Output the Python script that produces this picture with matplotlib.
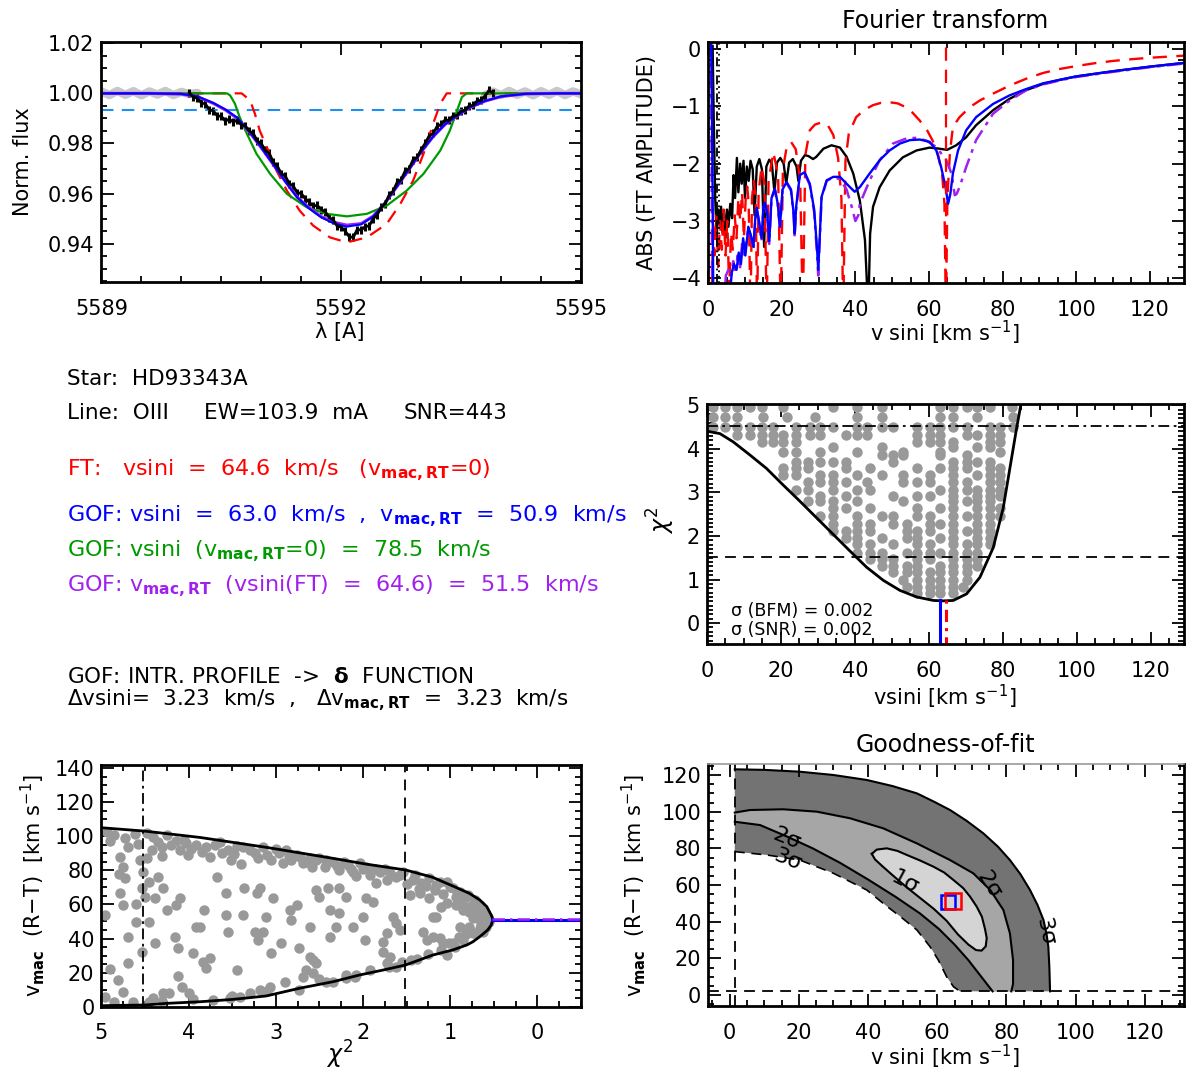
import matplotlib
matplotlib.use('Agg')
import matplotlib.pyplot as plt
import numpy as np
from matplotlib.ticker import MultipleLocator, FormatStrFormatter, FuncFormatter

plt.rcParams['font.family'] = ['DejaVu Sans']
plt.rcParams['mathtext.fontset'] = 'dejavusans'

# ------------------------------------------------------------------ data
# top-left: line profile
cont_left = [(5589.0, 1.0008), (5589.1, 0.9993), (5589.2, 1.0010), (5589.3, 0.9994), (5589.4, 1.0009),
             (5589.5, 0.9992), (5589.6, 1.0008), (5589.7, 0.9995), (5589.8, 1.0010), (5589.9, 0.9993),
             (5590.0, 1.0006), (5590.1, 0.9997), (5590.2, 1.0002)]
cont_right = [(5593.8, 0.9993), (5593.9, 1.0007), (5594.0, 0.9993), (5594.1, 1.0010), (5594.2, 0.9994),
              (5594.3, 1.0008), (5594.4, 0.9992), (5594.5, 1.0009), (5594.6, 0.9994), (5594.7, 1.0010),
              (5594.8, 0.9993), (5594.9, 1.0008), (5595.0, 0.9996)]
obs_wave = [5590.10, 5590.15, 5590.20, 5590.25, 5590.30, 5590.35, 5590.40, 5590.45, 5590.50, 5590.55,
            5590.60, 5590.65, 5590.70, 5590.75, 5590.80, 5590.85, 5590.90, 5590.95, 5591.00, 5591.05,
            5591.10, 5591.15, 5591.20, 5591.25, 5591.30, 5591.35, 5591.40, 5591.45, 5591.50, 5591.55,
            5591.60, 5591.65, 5591.70, 5591.75, 5591.80, 5591.85, 5591.90, 5591.95, 5592.00, 5592.05,
            5592.10, 5592.15, 5592.20, 5592.25, 5592.30, 5592.35, 5592.40, 5592.45, 5592.50, 5592.55,
            5592.60, 5592.65, 5592.70, 5592.75, 5592.80, 5592.85, 5592.90, 5592.95, 5593.00, 5593.05,
            5593.10, 5593.15, 5593.20, 5593.25, 5593.30, 5593.35, 5593.40, 5593.45, 5593.50, 5593.55,
            5593.60, 5593.65, 5593.70, 5593.75, 5593.80, 5593.85, 5593.90]
obs_flux = [1.0002, 0.9985, 0.9981, 0.9962, 0.9958, 0.9935, 0.9930, 0.9910, 0.9908, 0.9890,
            0.9897, 0.9886, 0.9893, 0.9874, 0.9870, 0.9850, 0.9840, 0.9810, 0.9800, 0.9772,
            0.9760, 0.9725, 0.9710, 0.9680, 0.9670, 0.9640, 0.9630, 0.9604, 0.9600, 0.9580,
            0.9566, 0.9550, 0.9553, 0.9536, 0.9528, 0.9504, 0.9495, 0.9470, 0.9466, 0.9450,
            0.9428, 0.9425, 0.9456, 0.9455, 0.9468, 0.9471, 0.9500, 0.9515, 0.9545, 0.9560,
            0.9594, 0.9610, 0.9645, 0.9655, 0.9690, 0.9700, 0.9735, 0.9745, 0.9775, 0.9800,
            0.9830, 0.9840, 0.9868, 0.9876, 0.9894, 0.9892, 0.9910, 0.9912, 0.9930, 0.9932,
            0.9950, 0.9952, 0.9970, 0.9972, 0.9990, 1.0012, 1.0000]
obs_err = 0.0016
fit_blue = [(5589.0, 1.0), (5589.6, 1.0), (5590.0, 0.9998), (5590.2, 0.9988), (5590.4, 0.9962),
            (5590.55, 0.9936), (5590.7, 0.9903), (5590.85, 0.9848), (5591.0, 0.9784), (5591.15, 0.9717),
            (5591.3, 0.9648), (5591.45, 0.9584), (5591.6, 0.9540), (5591.75, 0.9505), (5591.9, 0.9482),
            (5592.07, 0.9468), (5592.25, 0.9477), (5592.4, 0.9508), (5592.55, 0.9563), (5592.7, 0.9630),
            (5592.85, 0.9698), (5593.0, 0.9767), (5593.15, 0.9828), (5593.3, 0.9877), (5593.45, 0.9911),
            (5593.6, 0.9943), (5593.8, 0.9970), (5594.0, 0.9988), (5594.3, 0.9998), (5594.7, 1.0), (5595.0, 1.0)]
fit_purple = [(5589.0, 1.0), (5589.6, 1.0), (5590.0, 0.9997), (5590.2, 0.9987), (5590.4, 0.9960),
              (5590.55, 0.9934), (5590.7, 0.9900), (5590.85, 0.9846), (5591.0, 0.9783), (5591.15, 0.9716),
              (5591.3, 0.9649), (5591.45, 0.9586), (5591.6, 0.9543), (5591.75, 0.9508), (5591.9, 0.9486),
              (5592.07, 0.9474), (5592.25, 0.9480), (5592.4, 0.9510), (5592.55, 0.9563), (5592.7, 0.9629),
              (5592.85, 0.9697), (5593.0, 0.9766), (5593.15, 0.9827), (5593.3, 0.9876), (5593.45, 0.9910),
              (5593.6, 0.9942), (5593.8, 0.9969), (5594.0, 0.9987), (5594.3, 0.9998), (5594.7, 1.0), (5595.0, 1.0)]
fit_red = [(5589.0, 1.0), (5590.755, 1.0), (5590.86, 0.9972), (5590.92, 0.9919), (5590.98, 0.9852),
           (5591.07, 0.9785), (5591.19, 0.9692), (5591.32, 0.9612), (5591.48, 0.9532), (5591.65, 0.9472),
           (5591.86, 0.9425), (5592.07, 0.9405), (5592.32, 0.9425), (5592.57, 0.9479), (5592.74, 0.9559),
           (5592.90, 0.9652), (5593.03, 0.9759), (5593.15, 0.9879), (5593.24, 0.9959), (5593.32, 1.0),
           (5595.0, 1.0)]
fit_green = [(5589.0, 1.0), (5590.57, 1.0), (5590.61, 0.9992), (5590.67, 0.9959), (5590.73, 0.9905),
             (5590.82, 0.9839), (5590.94, 0.9759), (5591.11, 0.9679), (5591.32, 0.9599), (5591.57, 0.9545),
             (5591.82, 0.9519), (5592.07, 0.9509), (5592.32, 0.9519), (5592.57, 0.9552), (5592.82, 0.9612),
             (5593.03, 0.9679), (5593.24, 0.9772), (5593.36, 0.9852), (5593.45, 0.9932), (5593.51, 0.9985),
             (5593.57, 1.0), (5595.0, 1.0)]
noise_level = 0.9932

# top-right: Fourier transform (log10 |FT|)
ft_black = [(1.2, 0.05), (1.5, -1.2), (1.9, -2.6), (2.3, -3.3), (2.7, -2.8), (3.1, -3.05), (3.5, -2.75),
            (3.9, -3.2), (4.3, -2.85), (4.7, -3.3), (5.1, -2.8), (5.5, -3.1), (6.0, -2.7), (6.5, -2.95),
            (6.9, -2.2), (7.3, -2.6), (7.8, -1.9), (8.2, -2.5), (8.7, -2.0), (9.1, -2.35), (9.6, -1.95),
            (10.0, -2.6), (10.5, -2.05), (11.0, -2.3), (11.5, -1.95), (12.1, -2.1), (12.6, -2.9), (13.2, -2.05),
            (13.9, -1.92), (14.6, -2.1), (15.2, -3.45), (15.8, -2.05), (16.6, -1.93), (17.3, -2.0), (18.0, -2.5),
            (18.7, -1.98), (19.6, -1.9), (20.5, -2.0), (21.2, -2.35), (22.0, -1.98), (23.0, -1.92), (24.0, -2.05),
            (24.5, -2.3), (25.2, -1.95), (26.3, -1.85), (27.3, -1.87), (28.5, -1.92), (29.4, -1.88), (31.3, -1.74),
            (33.5, -1.68), (35.8, -1.72), (37.6, -1.88), (39.4, -2.17), (41.2, -2.64), (42.6, -3.33), (43.5, -4.6),
            (44.0, -3.22), (44.8, -2.75), (46.6, -2.41), (49.3, -2.12), (52.9, -1.89), (56.6, -1.77), (60.2, -1.72),
            (62.9, -1.74), (64.9, -1.76), (67.4, -1.68), (70.1, -1.54), (72.8, -1.33), (77.4, -1.07), (81.9, -0.87),
            (86.4, -0.72), (91.0, -0.61), (95.5, -0.54), (100, -0.48), (110, -0.39), (120, -0.31), (130, -0.24)]
ft_red = [(1.0, -4.6), (1.3, -3.0), (1.7, -3.6), (2.2, -2.9), (2.7, -3.8), (3.2, -3.0), (3.7, -3.5), (4.2, -2.8),
          (4.7, -3.6), (5.2, -3.0), (5.7, -4.2), (6.2, -3.2), (6.7, -3.5), (7.2, -2.9), (7.7, -3.3), (8.2, -2.6),
          (8.7, -3.0), (9.2, -2.5), (9.7, -3.3), (10.2, -2.6), (10.6, -2.4), (11.0, -2.7), (11.5, -4.6),
          (11.9, -2.6), (12.4, -2.3), (12.9, -2.6), (13.3, -4.6), (13.7, -2.5), (14.5, -2.05), (15.3, -2.35),
          (15.9, -4.6), (16.4, -2.3), (17.7, -1.8), (19.0, -2.2), (19.7, -4.6), (20.3, -2.1), (21.3, -1.72),
          (22.5, -1.62), (23.8, -1.75), (25.0, -2.3), (25.7, -4.6), (26.4, -1.85), (27.6, -1.42), (29.0, -1.32),
          (30.8, -1.28), (32.5, -1.33), (34.0, -1.50), (35.3, -1.9), (36.2, -2.6), (36.7, -4.6), (37.3, -1.95),
          (38.2, -1.48), (40.2, -1.19), (42.5, -1.06), (44.8, -0.98), (47.0, -0.94), (49.3, -0.93), (51.5, -0.95),
          (53.5, -1.01), (55.5, -1.11), (57.5, -1.25), (59.5, -1.42), (61.0, -1.60), (62.5, -1.85), (63.6, -2.2),
          (64.2, -2.7), (64.6, -4.6), (65.0, -2.6), (65.7, -1.8), (66.5, -1.36), (68.3, -1.19), (71.1, -1.015),
          (73.8, -0.90), (77.4, -0.78), (81.9, -0.64), (86.4, -0.52), (91.0, -0.42), (95.5, -0.35), (100, -0.30),
          (105, -0.25), (110, -0.21), (115, -0.18), (120, -0.155), (125, -0.135), (130, -0.115)]
ft_blue = [(0.8, 0.12), (1.0, -1.0), (1.2, -2.5), (1.4, -4.6), (5.5, -4.6), (6.4, -3.9), (7.0, -3.75),
           (7.7, -3.85), (8.3, -3.55), (8.9, -3.75), (9.5, -3.3), (10.1, -3.6), (10.9, -3.1), (11.6, -3.25),
           (12.3, -3.45), (12.8, -2.95), (13.2, -2.77), (13.8, -3.0), (14.5, -3.3), (15.0, -2.75), (15.4, -2.68),
           (16.0, -2.85), (16.6, -3.35), (17.2, -2.6), (18.1, -2.43), (18.9, -2.7), (19.5, -3.1), (20.2, -2.45),
           (21.3, -2.32), (22.5, -2.45), (23.2, -2.85), (23.5, -3.22), (23.9, -2.75), (24.9, -2.2), (26.2, -2.15),
           (27.6, -2.35), (28.8, -2.8), (29.6, -3.5), (29.9, -3.85), (30.3, -3.3), (30.8, -2.58), (32.2, -2.29),
           (34.0, -2.23), (35.8, -2.23), (37.6, -2.35), (39.8, -2.49), (41.2, -2.41), (43.9, -2.17), (46.6, -1.94),
           (49.3, -1.77), (52.1, -1.65), (54.8, -1.59), (57.5, -1.58), (60.2, -1.62), (62.0, -1.77), (63.3, -2.06),
           (64.5, -2.41), (65.2, -2.70), (65.8, -2.53), (66.5, -2.17), (67.9, -1.77), (70.1, -1.42), (72.8, -1.19),
           (77.4, -0.96), (81.9, -0.81), (86.4, -0.70), (91.0, -0.60), (95.5, -0.54), (100, -0.48), (110, -0.39),
           (120, -0.31), (130, -0.24)]
ft_purple = [(0.7, 0.12), (0.9, -1.5), (1.1, -4.6), (4.2, -4.6), (4.8, -3.95), (5.5, -3.85), (6.2, -3.97),
             (6.8, -3.7), (7.4, -3.92), (8.0, -3.6), (8.6, -3.85), (9.2, -3.4), (9.8, -3.65), (10.9, -3.12),
             (11.6, -3.27), (12.3, -3.5), (12.8, -2.97), (13.2, -2.79), (13.8, -3.02), (14.5, -3.35), (15.0, -2.77),
             (15.4, -2.70), (16.0, -2.88), (16.6, -3.4), (17.2, -2.62), (18.1, -2.45), (18.9, -2.72), (19.5, -3.15),
             (20.2, -2.47), (21.3, -2.34), (22.5, -2.47), (23.2, -2.9), (23.5, -3.28), (23.9, -2.8), (24.9, -2.22),
             (26.2, -2.17), (27.6, -2.37), (28.8, -2.85), (29.6, -3.6), (29.9, -3.95), (30.3, -3.35), (30.8, -2.6),
             (32.2, -2.3), (34.0, -2.24), (35.8, -2.27), (37.6, -2.45), (39.0, -2.75), (40.0, -3.0), (40.8, -2.9),
             (41.2, -2.70), (43.9, -2.29), (46.6, -1.94), (50.2, -1.65), (53.9, -1.56), (56.6, -1.55), (59.3, -1.60),
             (62.0, -1.71), (64.7, -1.94), (66.1, -2.17), (67.0, -2.55), (67.5, -2.53), (68.3, -2.41), (70.1, -2.06),
             (72.8, -1.59), (77.4, -1.13), (81.9, -0.90), (86.4, -0.72), (91.0, -0.62), (95.5, -0.55), (100, -0.49),
             (110, -0.40), (120, -0.32), (130, -0.25)]
ft_vsini = 64.6
ft_marks = [2.3, 3.0]

# middle-right: chi2 vs vsini
chi2_curve = [(0.35, 4.40), (3.5, 4.35), (7.1, 4.16), (11.6, 3.86), (16.1, 3.55), (20.6, 3.17), (25.1, 2.80),
              (29.6, 2.42), (34.1, 2.04), (38.6, 1.66), (43.2, 1.28), (47.7, 0.98), (52.2, 0.75), (56.7, 0.60),
              (61.2, 0.52), (63.9, 0.51), (66.6, 0.52), (70.2, 0.67), (73.8, 1.05), (77.4, 1.73), (80.1, 2.64),
              (81.9, 3.55), (83.7, 4.46), (85.0, 5.07)]
chi2_rows = [
    (4.95, [1.7, 4.9, 8.0, 11.6, 14.8, 20.6, 34.1, 40.5, 47.2, 63.0, 66.6, 70.2, 72.9, 76.5, 82.6]),
    (4.73, [1.7, 4.9, 8.0, 15.2, 21.5, 29.2, 40.5, 47.2, 63.0, 66.6, 72.9, 82.8]),
    (4.50, [1.7, 4.9, 8.0, 11.6, 14.8, 17.9, 24.2, 27.8, 30.5, 34.1, 40.5, 43.2, 47.2, 50.4, 56.7, 60.3, 63.0,
            66.6, 70.2, 76.5, 79.2, 82.8]),
    (4.31, [8.0, 11.6, 14.8, 17.9, 20.6, 24.2, 27.8, 30.5, 37.7, 40.5, 43.2, 56.7, 60.3, 63.0, 70.2, 72.9, 76.5, 79.2]),
    (4.16, [14.8, 17.9, 20.6, 24.2, 56.7, 60.3, 63.0, 66.6, 76.5, 79.2]),
    (4.05, [34.1, 47.2, 66.6, 72.9, 76.5]),
    (3.93, [20.6, 24.2, 30.5, 40.5, 53.1, 63.0, 79.2]),
    (3.86, [47.2, 50.4, 53.1, 63.0, 70.2]),
    (3.70, [24.2, 27.4, 30.5, 34.1, 37.7, 50.4, 66.6, 70.2, 72.9, 76.5]),
    (3.55, [20.6, 24.2, 27.4, 37.7, 44.1, 56.7, 63.0, 66.6, 70.2, 76.5, 79.2]),
    (3.40, [20.6, 24.2, 30.5, 34.1, 40.5, 47.2, 53.1, 60.3, 66.6, 72.9, 76.5, 79.2]),
    (3.25, [27.4, 30.5, 34.1, 37.7, 43.2, 53.1, 56.7, 60.3, 66.6, 70.2, 76.5, 79.2]),
    (3.06, [24.2, 27.4, 34.1, 40.5, 44.1, 63.0, 66.6, 70.2, 72.9, 76.5, 79.2]),
    (2.91, [30.5, 37.7, 50.4, 56.7, 60.3, 66.6, 72.9, 76.5, 79.2]),
    (2.80, [27.4, 30.5, 34.1, 40.5, 53.1, 66.6, 70.2, 72.9, 76.5]),
    (2.64, [34.1, 37.7, 44.1, 56.7, 63.0, 66.6, 72.9, 76.5, 79.2]),
    (2.45, [30.5, 34.1, 40.5, 47.2, 50.4, 56.7, 60.3, 66.6, 70.2, 72.9, 76.5, 79.2]),
    (2.27, [34.1, 40.5, 44.1, 50.4, 54.0, 60.3, 63.0, 66.6, 72.9, 76.5]),
    (2.11, [34.1, 37.7, 40.5, 44.1, 54.0, 56.7, 60.3, 66.6, 70.2, 72.9, 76.5]),
    (1.96, [37.7, 40.5, 47.2, 54.0, 56.7, 63.0, 66.6, 72.9, 76.5]),
    (1.81, [40.5, 44.1, 50.4, 56.7, 60.3, 66.6, 70.2, 72.9, 76.5]),
    (1.62, [40.5, 44.1, 47.2, 54.0, 56.7, 60.3, 63.0, 66.6, 70.2, 72.9]),
    (1.47, [44.1, 47.2, 50.4, 56.7, 60.3, 66.6, 70.2, 72.9]),
    (1.32, [47.2, 50.4, 54.0, 56.7, 63.0, 66.6, 70.2, 72.9]),
    (1.17, [50.4, 54.0, 56.7, 60.3, 63.0, 66.6, 70.2]),
    (0.98, [53.1, 56.7, 60.3, 63.0, 66.6, 70.2]),
    (0.83, [54.0, 56.7, 60.3, 63.0, 66.6, 69.3]),
    (0.68, [56.7, 60.3, 63.0, 66.6]),
]
chi2_min = 0.52
gof_vsini = 63.0
gof_vmac = 50.9
gof_vmac_ft = 51.5

# bottom-left: vmac vs chi2
vmac_upper = [(5.0, 105.0), (4.50, 103.0), (3.87, 99.3), (3.11, 93.5), (2.34, 87.0), (1.97, 83.7), (1.51, 80.2),
              (1.20, 75.9), (0.97, 70.8), (0.78, 66.5), (0.66, 62.6), (0.58, 58.7), (0.53, 53.8), (0.51, 51.2)]
vmac_lower = [(0.51, 51.2), (0.53, 47.9), (0.57, 45.0), (0.66, 41.1), (0.74, 38.1), (0.81, 36.2), (0.97, 33.3),
              (1.20, 30.3), (1.51, 24.5), (1.77, 21.5), (2.04, 18.6), (2.34, 14.7), (2.73, 10.8), (3.11, 6.3),
              (3.49, 4.3), (3.87, 2.9), (4.25, 1.96), (4.50, 1.0), (5.0, 0.6)]
vmac_dots = [
    (4.94, 102.7), (4.85, 100.7), (4.73, 98.8), (4.62, 101.3), (4.48, 101.7), (4.41, 99.7), (4.35, 96.8),
    (4.31, 93.9), (4.25, 100.7), (4.20, 94.8), (4.10, 91.9), (4.03, 95.8), (4.01, 89.0), (3.91, 94.8),
    (3.80, 93.5), (3.76, 88.0), (3.64, 96.8), (3.55, 91.9), (3.51, 86.0), (3.45, 94.3), (3.38, 93.5),
    (3.24, 90.0), (3.15, 93.5), (3.05, 86.0), (2.96, 90.0), (2.88, 91.9), (2.82, 86.0), (2.76, 89.0),
    (2.69, 84.1), (2.61, 87.0), (2.54, 86.0), (2.44, 82.1), (2.34, 85.1), (2.27, 80.2), (2.17, 83.1),
    (2.11, 79.2), (2.04, 84.1), (1.96, 82.1), (1.81, 79.2), (1.69, 78.2), (1.62, 76.3), (1.54, 79.2),
    (1.43, 74.3), (1.33, 72.4), (1.24, 75.3), (1.16, 71.4), (1.04, 73.3), (0.97, 69.4), (0.89, 67.5),
    (0.82, 64.5), (0.72, 62.6), (0.66, 59.7), (0.60, 55.7), (0.57, 52.8), (0.55, 49.9), (0.59, 46.9),
    (0.62, 44.0), (0.70, 43.0),
    (4.79, 88.0), (4.75, 82.1), (4.73, 75.3), (4.79, 66.5), (4.75, 59.7), (4.96, 53.8), (4.60, 49.9),
    (4.69, 41.1), (4.69, 25.4), (4.81, 15.7), (4.96, 5.9), (4.85, 3.0), (4.56, 86.0), (4.52, 79.2),
    (4.54, 69.4), (4.50, 64.5), (4.45, 73.3), (4.35, 76.3), (4.29, 69.4), (4.39, 63.6), (4.45, 49.9),
    (4.39, 37.6), (4.14, 59.7), (4.10, 63.6), (4.16, 41.1), (4.12, 34.2), (4.12, 18.0), (4.08, 11.8),
    (3.95, 31.3), (3.91, 46.9), (3.87, 46.9), (3.82, 56.7), (3.76, 28.4), (3.83, 26.4), (3.80, 22.5),
    (3.68, 76.3), (3.57, 66.5), (3.57, 53.8), (3.55, 44.0), (3.45, 21.5), (3.38, 53.8), (3.36, 69.4),
    (3.22, 66.5), (3.18, 69.4), (3.24, 44.0), (3.15, 44.0), (3.20, 39.1), (3.11, 52.8), (3.03, 63.6),
    (3.05, 31.3), (2.94, 37.2), (2.84, 56.7), (2.82, 50.8), (2.76, 59.7), (2.73, 34.2), (2.65, 21.5),
    (2.61, 29.4), (2.57, 27.4), (2.54, 25.4), (2.57, 19.6), (2.69, 17.6), (2.73, 9.8), (2.61, 46.9),
    (2.54, 68.4), (2.50, 64.5), (2.40, 69.4), (2.38, 56.7), (2.38, 41.1), (2.31, 46.9), (2.27, 54.8),
    (2.27, 69.4), (2.19, 64.5), (2.11, 46.9), (2.09, 17.6), (2.00, 52.8), (1.98, 39.1), (1.96, 63.6),
    (1.89, 61.6), (1.85, 72.4), (1.77, 38.1), (1.77, 32.3), (1.69, 29.4), (1.73, 43.0), (1.66, 52.8),
    (1.62, 48.9), (1.58, 45.0), (1.46, 65.5), (1.35, 66.5), (1.24, 63.6), (1.20, 52.8), (1.16, 52.8),
    (1.10, 58.7), (1.04, 60.6), (1.01, 37.2), (0.93, 59.7), (0.85, 56.7), (0.89, 46.9), (0.78, 55.7),
    (0.74, 51.8), (0.74, 43.0), (1.31, 44.0), (1.27, 39.1), (1.20, 41.1), (1.12, 40.1), (1.08, 37.2),
    (0.97, 37.2), (0.85, 39.1), (1.04, 30.3), (1.45, 27.4), (1.62, 23.5), (1.73, 25.4), (1.92, 21.5),
    (2.08, 18.6), (2.19, 16.6), (2.34, 14.7), (2.42, 14.7), (2.90, 14.7), (3.07, 11.8), (3.18, 9.8),
    (3.30, 7.8), (3.41, 5.9), (3.53, 4.9), (3.72, 3.9), (3.99, 7.8), (4.22, 8.2), (4.29, 8.2),
    (4.41, 4.9), (4.45, 3.0), (4.64, 3.0), (4.54, 32.3), (4.25, 56.7),
    (4.90, 97.0), (4.70, 93.5), (4.58, 95.5), (4.42, 92.0), (4.30, 88.5), (4.15, 97.5), (4.05, 98.0),
    (3.97, 92.5), (3.85, 90.5), (3.70, 95.0), (3.62, 90.0), (3.48, 89.5), (3.40, 84.0), (3.30, 92.0),
    (3.20, 87.0), (3.10, 89.0), (3.00, 92.5), (2.92, 84.5), (2.85, 88.5), (2.72, 88.0), (2.65, 85.0),
    (2.58, 82.0), (2.50, 87.5), (2.42, 86.0), (2.30, 82.5), (2.22, 85.0), (2.14, 81.0), (2.08, 76.5),
    (2.00, 80.5), (1.92, 77.0), (1.86, 81.0), (1.75, 80.5), (1.72, 74.5), (1.58, 77.0), (1.50, 72.0),
    (1.40, 77.0), (1.36, 69.0), (1.28, 71.0), (1.18, 68.5), (1.12, 73.0), (1.08, 66.0), (1.00, 70.5),
    (0.93, 64.5), (0.86, 61.0), (0.80, 65.5), (0.76, 59.0), (0.70, 57.5), (0.68, 52.0), (0.65, 48.5),
    (0.64, 55.0), (0.61, 51.0), (0.66, 46.0), (0.78, 46.5), (0.82, 42.5), (0.90, 41.0), (0.95, 35.0),
    (1.10, 33.0), (1.25, 31.0), (1.38, 28.0), (1.55, 26.5), (1.70, 23.5), (2.20, 18.5), (2.50, 16.0),
    (3.10, 9.0), (3.50, 6.5), (3.95, 4.5), (4.30, 3.5), (4.75, 8.5), (4.90, 22.0), (4.60, 60.0),
    (4.80, 78.0), (4.48, 87.0),
]
chi2_limits = [1.52, 4.52]

# bottom-right: goodness-of-fit confidence regions (vsini, vmac)
sig3_upper = [(1.5, 123.1), (10.0, 122.8), (20.3, 121.8), (30.0, 120.0), (39.6, 117.3), (47.0, 114.0),
              (54.1, 110.0), (59.0, 105.5), (63.7, 100.9), (68.5, 95.0), (73.3, 88.2), (77.5, 81.0),
              (81.0, 73.6), (84.0, 66.0), (86.8, 57.3), (89.0, 49.0), (90.7, 40.9), (91.6, 33.0),
              (92.1, 26.4), (92.4, 15.0), (92.6, 2.0)]
sig3_lower = [(1.5, 78.2), (10.7, 76.4), (20.3, 73.6), (30.0, 66.4), (39.6, 57.3), (45.7, 48.0),
              (49.2, 43.0), (54.1, 35.5), (57.9, 26.4), (60.3, 19.1), (62.7, 10.0), (64.7, 4.5), (66.6, 2.0)]
sig2_upper = [(1.5, 99.5), (5.9, 100.9), (15.5, 101.3), (25.2, 100.0), (34.8, 96.4), (44.4, 90.9),
              (54.1, 82.7), (63.7, 73.6), (70.4, 66.4), (75.3, 57.3), (79.1, 46.4), (81.0, 33.6),
              (81.9, 19.1), (81.9, 6.0), (81.4, 2.0)]
sig2_lower = [(1.5, 94.5), (8.8, 92.7), (16.5, 86.5), (24.0, 80.0), (32.0, 72.0), (40.0, 63.0),
              (48.0, 53.5), (55.0, 44.5), (60.5, 36.0), (65.0, 27.5), (69.0, 19.0), (72.5, 10.5), (76.0, 2.0)]
sig1 = [(41.1, 77.0), (42.5, 79.3), (45.4, 80.0), (48.5, 78.6), (51.2, 76.4), (55.0, 73.4), (58.9, 70.0),
        (62.0, 66.8), (64.7, 62.7), (67.5, 58.3), (69.5, 53.6), (71.4, 48.2), (72.9, 42.7), (73.8, 36.0),
        (74.3, 31.0), (74.0, 26.5), (72.8, 24.2), (71.2, 24.5), (69.0, 27.5), (66.0, 33.0), (62.7, 40.5),
        (59.0, 47.0), (55.0, 53.0), (51.0, 59.0), (47.0, 65.5), (44.0, 70.5), (42.0, 74.0), (41.1, 77.0)]
grid_vsini_min = 1.5
grid_vmac_min = 2.0
contour_labels = [(16.5, 85.5, '2σ', -22), (16.8, 74.0, '3σ', -22), (50.7, 61.5, '1σ', -28),
                  (74.8, 60.0, '2σ', -58), (91.2, 34.5, '3σ', -78)]

# text block
star = 'HD93343A'

# ------------------------------------------------------------------ figure
W, H = 1189, 1070
fig = plt.figure(figsize=(W / 100, H / 100), dpi=100)


def ax_px(l, t, r, b):
    return fig.add_axes([l / W, 1 - b / H, (r - l) / W, (b - t) / H])


def int_minus(v, p):
    s = '%d' % round(v)
    return s.replace('-', '\u2212') if s != '-0' else '0'


def style(ax, xmaj, xmin, ymaj, ymin, xfmt=None, yfmt=None, xpad=10, ypad=5):
    ax.xaxis.set_major_locator(MultipleLocator(xmaj))
    ax.xaxis.set_minor_locator(MultipleLocator(xmin))
    ax.yaxis.set_major_locator(MultipleLocator(ymaj))
    ax.yaxis.set_minor_locator(MultipleLocator(ymin))
    ax.xaxis.set_major_formatter(FormatStrFormatter(xfmt) if xfmt else FuncFormatter(int_minus))
    ax.yaxis.set_major_formatter(FormatStrFormatter(yfmt) if yfmt else FuncFormatter(int_minus))
    ax.tick_params(which='both', direction='in', top=True, right=True, width=1.3, labelsize=15)
    ax.tick_params(axis='x', which='major', length=9, pad=xpad)
    ax.tick_params(axis='y', which='major', length=9, pad=ypad)
    ax.tick_params(which='minor', length=4.5)
    for s in ax.spines.values():
        s.set_linewidth(2)


def ftxt(x, y, s, **kw):
    kw.setdefault('fontsize', 15)
    kw.setdefault('va', 'center')
    return fig.text(x / W, 1 - y / H, s, **kw)


def xy(pairs):
    a = np.array(pairs, dtype=float)
    return a[:, 0], a[:, 1]


RED, BLUE, GREEN, PURPLE, LBLUE = '#ff0000', '#0000ff', '#009900', '#a020f0', '#2090f0'

# ---------- panel 1: line profile
ax1 = ax_px(101.4, 42, 581, 282)
ax1.plot(*xy(cont_left), color='#c8c8c8', lw=6, solid_capstyle='round')
ax1.plot(*xy(cont_right), color='#c8c8c8', lw=6, solid_capstyle='round')
ax1.errorbar(obs_wave, obs_flux, yerr=obs_err, color='k', lw=2.0, elinewidth=2.2, capsize=0)
ax1.axhline(noise_level, color=LBLUE, lw=1.5, dashes=(6, 4))
ax1.plot(*xy(fit_red), color=RED, lw=1.6, dashes=(6, 4))
ax1.plot(*xy(fit_green), color=GREEN, lw=1.6)
ax1.plot(*xy(fit_purple), color=PURPLE, lw=2.2)
ax1.plot(*xy(fit_blue), color=BLUE, lw=1.5)
ax1.set_xlim(5589, 5595)
ax1.set_ylim(0.9247, 1.0205)
style(ax1, 3, 0.5, 0.02, 0.005, xfmt='%d', yfmt='%.2f', xpad=12)
ftxt(23, 162, 'Norm. flux', rotation=90, ha='center')
ftxt(340, 332, 'λ [A]', ha='center')

# ---------- panel 2: Fourier transform
ax2 = ax_px(708.2, 42, 1184, 283)
ax2.plot(*xy(ft_black), color='k', lw=1.7)
ax2.plot(*xy(ft_red), color=RED, lw=1.7, dashes=(6, 4))
ax2.plot(*xy(ft_purple), color=PURPLE, lw=1.8, dashes=(6, 2.5, 1.5, 2.5))
ax2.plot(*xy(ft_blue), color=BLUE, lw=1.7)
ax2.axvline(ft_vsini, color=RED, lw=1.6, dashes=(6, 4))
ax2.axvline(ft_marks[0], color='k', lw=1.3, dashes=(5, 2, 1, 2))
ax2.axvline(ft_marks[1], color='k', lw=1.3, dashes=(1, 2))
ax2.set_xlim(0, 129.3)
ax2.set_ylim(-4.08, 0.12)
style(ax2, 20, 5, 1, 0.2, xpad=12)
ftxt(945, 21, 'Fourier transform', ha='center', fontsize=17)
ftxt(647, 162, 'ABS (FT AMPLITUDE)', rotation=90, ha='center')
ftxt(945, 333, 'v sini [km s$^{-1}$]', ha='center')

# ---------- panel 3: chi2 vs vsini
ax3 = ax_px(707, 404, 1184, 644)
dots_v = [v for c, vs in chi2_rows for v in vs]
dots_c = [c for c, vs in chi2_rows for v in vs]
ax3.plot(dots_v, dots_c, 'o', color='#999999', ms=7.5, mec='none')
ax3.plot(*xy(chi2_curve), color='k', lw=2)
ax3.axhline(chi2_limits[0], color='k', lw=1.3, dashes=(6, 4))
ax3.axhline(chi2_limits[1], color='k', lw=1.3, dashes=(6, 2.5, 1.5, 2.5))
ax3.plot([gof_vsini, gof_vsini], [-0.6, chi2_min], color=BLUE, lw=2.2)
ax3.plot([ft_vsini, ft_vsini], [-0.6, chi2_min + 0.03], color=RED, lw=2.2, dashes=(4, 2, 1, 2))
ax3.set_xlim(0, 129.0)
ax3.set_ylim(-0.48, 5.03)
style(ax3, 20, 5, 1, 0.1, xpad=12)
ax3.text(6.5, 0.27, 'σ (BFM) = 0.002', fontsize=12.5, va='center')
ax3.text(6.5, -0.16, 'σ (SNR) = 0.002', fontsize=12.5, va='center')
ftxt(661, 520, r'$\chi^2$', rotation=90, ha='center', fontsize=17)
ftxt(945, 697, 'vsini [km s$^{-1}$]', ha='center')

# ---------- panel 4: vmac vs chi2
ax4 = ax_px(101.4, 765, 581, 1006.7)
ax4.plot(*xy(vmac_dots), 'o', color='#999999', ms=7.5, mec='none', clip_on=True)
ax4.plot(*xy(vmac_upper), color='k', lw=2)
ax4.plot(*xy(vmac_lower), color='k', lw=2)
ax4.axvline(chi2_limits[0], color='k', lw=1.3, dashes=(6, 4))
ax4.axvline(chi2_limits[1], color='k', lw=1.3, dashes=(6, 2.5, 1.5, 2.5))
ax4.plot([chi2_min, -0.6], [gof_vmac, gof_vmac], color=BLUE, lw=2.2)
ax4.plot([chi2_min, -0.6], [gof_vmac_ft, gof_vmac_ft], color=PURPLE, lw=1.8, dashes=(5, 2, 1, 2))
ax4.set_xlim(5, -0.5)
ax4.set_ylim(0, 141.8)
style(ax4, 1, 0.25, 20, 5, xpad=12)
ftxt(33, 885, r'v$_{\mathbf{mac}}$  (R$-$T)  [km s$^{-1}$]', rotation=90, ha='center')
ftxt(340, 1055, r'$\chi^2$', ha='center', fontsize=17)

# ---------- panel 5: goodness-of-fit map
ax5 = ax_px(708, 764, 1184, 1006)
u3 = list(sig3_upper)
l3 = list(sig3_lower)
ax5.fill([p[0] for p in u3 + l3[::-1]], [p[1] for p in u3 + l3[::-1]], color='#737373', lw=0)
u2 = list(sig2_upper)
l2 = list(sig2_lower)
ax5.fill([p[0] for p in u2 + l2[::-1]], [p[1] for p in u2 + l2[::-1]], color='#a6a6a6', lw=0)
ax5.fill(*xy(sig1), color='#d4d4d4', lw=0)
ax5.plot(*xy(sig3_upper), color='k', lw=1.5)
ax5.plot(*xy(sig3_lower), color='k', lw=1.2, dashes=(6, 4))
ax5.plot(*xy(sig2_upper), color='k', lw=1.5)
ax5.plot(*xy(sig2_lower), color='k', lw=1.5)
ax5.plot(*xy(sig1), color='k', lw=1.5)
for cx, cy, lab, rot in contour_labels:
    ax5.text(cx, cy, lab, fontsize=16, rotation=rot, ha='center', va='center')
ax5.axvline(grid_vsini_min, color='k', lw=1.3, dashes=(6, 4))
ax5.axhline(grid_vmac_min, color='k', lw=1.3, dashes=(6, 4))
ax5.plot([gof_vsini], [gof_vmac], marker='s', ms=10.5, mfc='none', mec=BLUE, mew=1.8)
ax5.plot([ft_vsini], [gof_vmac_ft], marker='s', ms=11, mfc='none', mec=RED, mew=1.8)
ax5.set_xlim(-6.24, 131.3)
ax5.set_ylim(-6, 126)
style(ax5, 20, 5, 20, 5, xpad=12)
ax5.spines['top'].set_color('#999999')
ax5.spines['top'].set_linewidth(1.2)
ftxt(945, 745, 'Goodness-of-fit', ha='center', fontsize=17)
ftxt(634, 885, r'v$_{\mathbf{mac}}$  (R$-$T)  [km s$^{-1}$]', rotation=90, ha='center')
ftxt(945, 1057, 'v sini [km s$^{-1}$]', ha='center')

# ---------- text block
ftxt(67, 379, 'Star:  ' + star, fontsize=15.5)
ftxt(67, 413, 'Line:  OIII', fontsize=15.5)
ftxt(204, 413, 'EW=103.9  mA', fontsize=15.5)
ftxt(404, 413, 'SNR=443', fontsize=15.5)
ftxt(67, 470, r'FT:   vsini  =  64.6  km/s   (v$_{\mathbf{mac,RT}}$=0)', color=RED, fontsize=16)
ftxt(67, 516, r'GOF: vsini  =  63.0  km/s  ,  v$_{\mathbf{mac,RT}}$  =  50.9  km/s', color=BLUE, fontsize=16)
ftxt(67, 551, r'GOF: vsini  (v$_{\mathbf{mac,RT}}$=0)  =  78.5  km/s', color=GREEN, fontsize=16)
ftxt(67, 586, r'GOF: v$_{\mathbf{mac,RT}}$  (vsini(FT)  =  64.6)  =  51.5  km/s', color=PURPLE, fontsize=16)
ftxt(67, 677, r'GOF: INTR. PROFILE  ->  $\mathbf{\delta}$  FUNCTION', fontsize=15.5)
ftxt(67, 700, r'$\Delta$vsini=  3.23  km/s  ,   $\Delta$v$_{\mathbf{mac,RT}}$  =  3.23  km/s', fontsize=15.5)

fig.savefig('out.png', dpi=100)
